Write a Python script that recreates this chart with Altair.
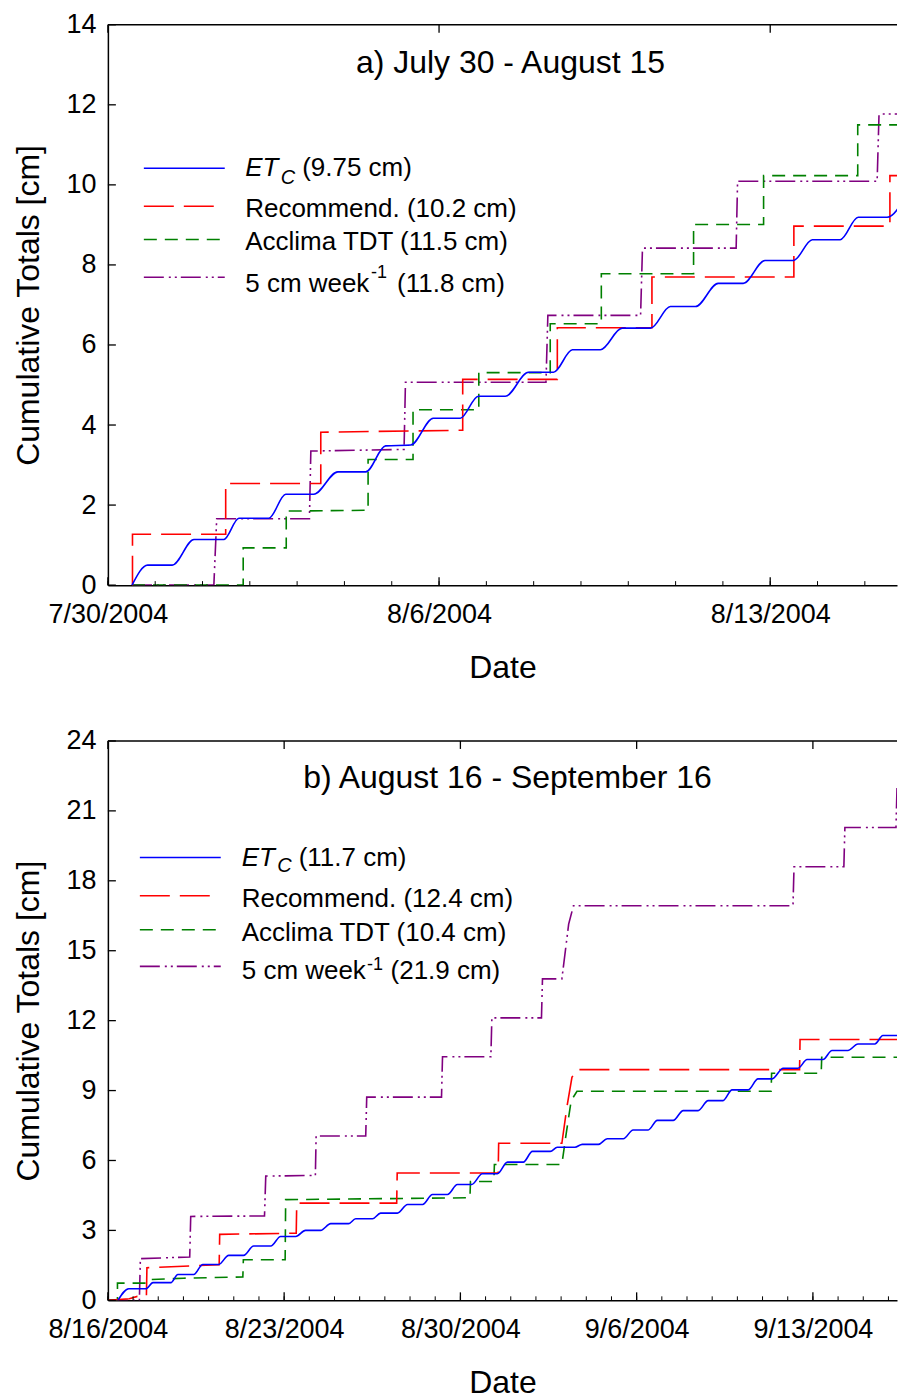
import altair as alt
import pandas as pd

FONT = "Liberation Sans"

# ---------------- Panel a: days since 7/30/2004 ----------------
A_X_MAX = 16.68
A_Y_TICKS = [0, 2, 4, 6, 8, 10, 12, 14]
A_X_TICKS = [0, 7, 14]
A_X_LABELS = ["7/30/2004", "8/6/2004", "8/13/2004"]
A_MINOR = list(range(0, 17))
A_TITLE = "a) July 30 - August 15"

A_ETC_D = [0.51, 0.84, 1.36, 1.82, 2.45, 2.77, 3.40, 3.76, 4.35, 4.86, 5.45, 5.87, 6.40, 6.88, 7.45,
           7.83, 8.40, 8.89, 9.42, 9.82, 10.41, 10.87, 11.47, 11.89, 12.42, 12.90, 13.43, 13.89, 14.49,
           14.89, 15.48, 15.86, 16.47, 16.87]
A_ETC_V = [0.00, 0.50, 0.50, 1.14, 1.14, 1.67, 1.67, 2.27, 2.27, 2.83, 2.83, 3.48, 3.50, 4.17, 4.17,
           4.72, 4.72, 5.32, 5.32, 5.88, 5.88, 6.42, 6.42, 6.96, 6.96, 7.54, 7.54, 8.11, 8.11,
           8.63, 8.63, 9.19, 9.19, 9.73]

A_REC_D = [0.51, 0.52, 0.52, 2.49, 2.49, 4.50, 4.50, 7.50, 7.50, 9.50, 9.50, 11.50, 11.50, 14.50, 14.50,
           16.53, 16.53, 16.87]
A_REC_V = [0.00, 0.00, 1.27, 1.27, 2.54, 2.54, 3.82, 3.87, 5.14, 5.14, 6.43, 6.43, 7.70, 7.70, 8.97,
           8.97, 10.23, 10.23]

A_TDT_D = [0.51, 2.86, 2.86, 3.77, 3.77, 5.50, 5.50, 6.45, 6.45, 7.84, 7.84, 9.35, 9.35, 10.43, 10.43,
           12.38, 12.38, 13.86, 13.86, 15.85, 15.85, 16.87]
A_TDT_V = [0.00, 0.00, 0.93, 0.93, 1.85, 1.87, 3.14, 3.14, 4.38, 4.38, 5.31, 5.31, 6.53, 6.53, 7.78,
           7.78, 9.01, 9.01, 10.23, 10.23, 11.50, 11.50]

A_WK_D = [0.51, 2.24, 2.30, 4.26, 4.29, 6.26, 6.29, 9.26, 9.30, 11.26, 11.30, 13.28, 13.31, 16.26, 16.30, 16.87]
A_WK_V = [0.00, 0.00, 1.66, 1.66, 3.35, 3.39, 5.07, 5.07, 6.74, 6.74, 8.42, 8.42, 10.09, 10.09, 11.77, 11.77]

A_TOTALS = ["(9.75 cm)", "Recommend. (10.2 cm)", "Acclima TDT (11.5 cm)", "(11.8 cm)"]

# ---------------- Panel b: days since 8/16/2004 ----------------
B_X_MAX = 31.34
B_Y_TICKS = [0, 3, 6, 9, 12, 15, 18, 21, 24]
B_X_TICKS = [0, 7, 14, 21, 28]
B_X_LABELS = ["8/16/2004", "8/23/2004", "8/30/2004", "9/6/2004", "9/13/2004"]
B_MINOR = list(range(0, 32))
B_TITLE = "b) August 16 - September 16"

B_ETC_D = [0.40, 0.83, 1.51, 1.79, 2.50, 2.78, 3.41, 3.77, 4.40, 4.80, 5.39, 5.79, 6.47, 6.86, 7.46,
           7.85, 8.45, 8.85, 9.56, 9.84, 10.51, 10.83, 11.50, 11.90, 12.50, 12.89, 13.49, 13.88, 14.45,
           14.87, 15.47, 15.87, 16.50, 16.86, 17.57, 17.85, 18.55, 18.84, 19.48, 19.83, 20.47, 20.86,
           21.46, 21.82, 22.45, 22.85, 23.44, 23.84, 24.43, 24.79, 25.43, 25.82, 26.38, 26.82, 27.41,
           27.77, 28.40, 28.76, 29.39, 29.79, 30.46, 30.78, 31.46, 31.69]
B_ETC_V = [0.00, 0.50, 0.50, 0.76, 0.76, 1.11, 1.11, 1.54, 1.54, 1.93, 1.93, 2.33, 2.33, 2.74, 2.74,
           3.00, 3.00, 3.29, 3.29, 3.50, 3.50, 3.74, 3.74, 4.11, 4.11, 4.54, 4.54, 4.97, 4.97,
           5.43, 5.43, 5.93, 5.93, 6.39, 6.39, 6.57, 6.57, 6.69, 6.69, 6.93, 6.93, 7.31,
           7.31, 7.72, 7.72, 8.14, 8.14, 8.57, 8.57, 9.03, 9.03, 9.50, 9.50, 9.96, 9.96,
           10.33, 10.33, 10.72, 10.72, 11.00, 11.00, 11.36, 11.36, 11.65]

B_REC_D = [0.00, 0.85, 1.17, 1.53, 1.55, 4.42, 4.44, 7.48, 7.50, 11.47, 11.49, 15.50, 15.52, 18.03,
           18.23, 18.43, 18.63, 27.47, 27.49, 31.47, 31.49, 31.69]
B_REC_V = [0.00, 0.07, 0.17, 0.17, 1.40, 1.53, 2.83, 2.88, 4.17, 4.17, 5.46, 5.46, 6.74, 6.74,
           8.29, 9.57, 9.90, 9.90, 11.19, 11.19, 12.46, 12.46]

B_TDT_D = [0.00, 0.38, 0.38, 1.50, 1.60, 3.00, 5.36, 5.38, 7.04, 7.06, 14.38, 14.40, 15.33, 15.35,
           18.03, 18.20, 18.40, 18.63, 26.34, 26.36, 28.33, 28.35, 31.69]
B_TDT_V = [0.00, 0.00, 0.74, 0.74, 0.89, 0.95, 1.00, 1.74, 1.74, 4.32, 4.40, 5.10, 5.10, 5.83,
           5.83, 7.14, 8.57, 8.97, 8.97, 9.74, 9.74, 10.43, 10.43]

B_WK_D = [0.00, 1.25, 1.29, 3.25, 3.29, 6.22, 6.27, 8.24, 8.27, 10.24, 10.28, 13.25, 13.29, 15.21,
          15.25, 17.22, 17.26, 18.03, 18.30, 18.49, 27.21, 27.25, 29.23, 29.27, 31.30, 31.34, 31.69]
B_WK_V = [0.00, 0.00, 1.79, 1.86, 3.60, 3.62, 5.33, 5.36, 7.05, 7.05, 8.72, 8.72, 10.45, 10.45,
          12.12, 12.12, 13.79, 13.79, 16.14, 16.93, 16.93, 18.60, 18.60, 20.29, 20.29, 21.95, 21.95]

B_TOTALS = ["(11.7 cm)", "Recommend. (12.4 cm)", "Acclima TDT (10.4 cm)", "(21.9 cm)"]

# ---------------- styles ----------------
STYLE = {
    "etc": dict(color="#0000FF", dash=None, interp="monotone"),
    "rec": dict(color="#FF0000", dash=[30, 10], interp="linear"),
    "tdt": dict(color="#008000", dash=[13, 8], interp="linear"),
    "wk": dict(color="#800080", dash=[20, 5, 2, 4, 2, 4], interp="linear"),
}
LW = 1.6
W = 790
HA = 561
HB = 560


def one(key, d, v, X, Y):
    s = STYLE[key]
    df = pd.DataFrame({"d": d, "v": v, "i": list(range(len(d)))})
    kw = dict(color=s["color"], strokeWidth=LW, clip=True, interpolate=s["interp"])
    if s["dash"]:
        kw["strokeDash"] = s["dash"]
    return alt.Chart(df).mark_line(**kw).encode(x=X, y=Y, order=alt.Order("i:Q"))


def txt(t, x, y, size, style="normal", align="left", baseline="alphabetic"):
    return alt.Chart(pd.DataFrame({"t": [t]})).mark_text(
        font=FONT, fontSize=size, fontStyle=style, align=align, baseline=baseline, color="black"
    ).encode(x=alt.value(x), y=alt.value(y), text="t:N")


def hline(x1, x2, y, color, dash=None, width=LW):
    kw = dict(color=color, strokeWidth=width)
    if dash:
        kw["strokeDash"] = dash
    return alt.Chart(pd.DataFrame({"a": [0]})).mark_rule(**kw).encode(
        x=alt.value(x1), x2=alt.value(x2), y=alt.value(y))


def panel(H, xmax, yticks, xticks, xlabels, minor, series, title, title_xy, leg, totals):
    expr = " : ".join(f"datum.value == {t} ? '{l}'" for t, l in zip(xticks, xlabels)) + " : ''"
    X = alt.X("d:Q", scale=alt.Scale(domain=[0, xmax], nice=False, zero=False),
              axis=alt.Axis(values=xticks, labelExpr=expr, title="Date", ticks=False, tickSize=0,
                            grid=False, domainColor="black", domainWidth=1.5, labelFont=FONT,
                            labelFontSize=27, labelColor="black", labelPadding=16, labelFlush=False,
                            labelOverlap=False, titleFont=FONT, titleFontSize=32,
                            titleFontWeight="normal", titleColor="black", titlePadding=25))
    Y = alt.Y("v:Q", scale=alt.Scale(domain=[0, yticks[-1]], nice=False, zero=False),
              axis=alt.Axis(values=yticks, format="d", title="Cumulative Totals [cm]", ticks=False,
                            tickSize=0, grid=False, domainColor="black", domainWidth=1.5,
                            labelFont=FONT, labelFontSize=27, labelColor="black", labelPadding=12,
                            labelOverlap=False, titleFont=FONT, titleFontSize=32,
                            titleFontWeight="normal", titleColor="black", titlePadding=20))
    layers = []
    for key in ["wk", "tdt", "rec", "etc"]:
        d, v = series[key]
        layers.append(one(key, d, v, X, Y))
    # inward ticks
    layers.append(alt.Chart(pd.DataFrame({"v": yticks})).mark_rule(color="black", strokeWidth=1.3)
                  .encode(y=Y, x=alt.value(0), x2=alt.value(8)))
    layers.append(alt.Chart(pd.DataFrame({"d": xticks})).mark_rule(color="black", strokeWidth=1.3)
                  .encode(x=X, y=alt.value(H), y2=alt.value(H - 8)))
    layers.append(alt.Chart(pd.DataFrame({"d": xticks})).mark_rule(color="black", strokeWidth=1.3)
                  .encode(x=X, y=alt.value(0), y2=alt.value(8)))
    layers.append(alt.Chart(pd.DataFrame({"d": minor})).mark_rule(color="black", strokeWidth=1)
                  .encode(x=X, y=alt.value(H), y2=alt.value(H - 4)))
    layers.append(hline(0, W, 0, "black", width=1.5))
    # title
    layers.append(txt(title, title_xy[0], title_xy[1], 32, align="center", baseline="middle"))
    # legend
    lx1, lx2, ys, tb, tx, sub, sup, after = leg
    for k, key in enumerate(["etc", "rec", "tdt", "wk"]):
        s = STYLE[key]
        x2 = lx2 - 11 if key == "rec" else lx2
        layers.append(hline(lx1, x2, ys[k], s["color"], s["dash"]))
    layers.append(txt("ET", tx, tb[0], 26, style="italic"))
    layers.append(txt("C", sub[0], sub[1], 20, style="italic"))
    layers.append(txt(totals[0], after[0], tb[0], 26))
    layers.append(txt(totals[1], tx, tb[1], 26))
    layers.append(txt(totals[2], tx, tb[2], 26))
    layers.append(txt("5 cm week", tx, tb[3], 26))
    layers.append(txt("-1", sup[0], sup[1], 18))
    layers.append(txt(totals[3], after[1], tb[3], 26))
    return alt.layer(*layers).properties(width=W, height=H)


pa = panel(HA, A_X_MAX, A_Y_TICKS, A_X_TICKS, A_X_LABELS, A_MINOR,
           {"etc": (A_ETC_D, A_ETC_V), "rec": (A_REC_D, A_REC_V),
            "tdt": (A_TDT_D, A_TDT_V), "wk": (A_WK_D, A_WK_V)},
           A_TITLE, (403, 38),
           (36, 117, [143.7, 181.7, 215, 252.7], [151, 192.5, 225.5, 267.5], 137.5,
            (173, 159), (263.5, 254), (194.5, 289.5)),
           A_TOTALS)

pb = panel(HB, B_X_MAX, B_Y_TICKS, B_X_TICKS, B_X_LABELS, B_MINOR,
           {"etc": (B_ETC_D, B_ETC_V), "rec": (B_REC_D, B_REC_V),
            "tdt": (B_TDT_D, B_TDT_V), "wk": (B_WK_D, B_WK_V)},
           B_TITLE, (400, 37),
           (32, 113, [116.7, 155, 189, 225.7], [125, 166.5, 200, 238], 134,
            (169.5, 131.5), (259.5, 229), (191, 283)),
           B_TOTALS)

chart = alt.vconcat(pa, pb, spacing=44).properties(
    padding={"left": 4, "top": 2, "right": 0, "bottom": 0}
).configure_view(stroke=None)

chart.save("out.html", embed_options={"renderer": "svg", "actions": False})
